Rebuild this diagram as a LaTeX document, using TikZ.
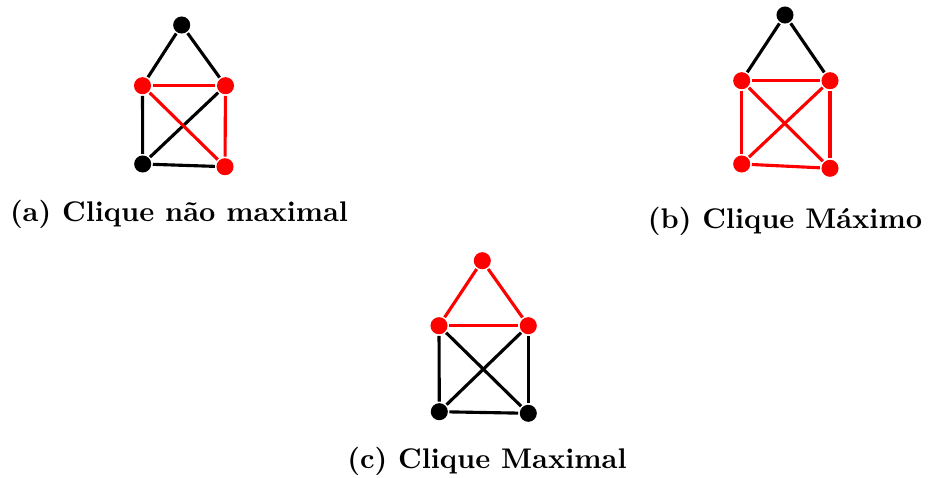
\documentclass[tikz,border=0pt]{standalone}
\begin{document}
\begin{tikzpicture}[x=0.352pt, y=-0.352pt, line width=1.1pt,
    vtx/.style={circle, fill=black, inner sep=0pt, minimum size=6pt},
    rvtx/.style={vtx, fill=red},
    lbl/.style={anchor=base, font=\bfseries}]
\useasboundingbox (0,0) rectangle (928,477);

% (a) clique nao maximal
\node[vtx] (a0) at (181.7,25) {};
\node[rvtx] (a1) at (142.5,85.7) {};
\node[rvtx] (a2) at (225.5,85.7) {};
\node[vtx] (a3) at (142.7,164) {};
\node[rvtx] (a4) at (225,166.7) {};
\draw (a0) -- (a1);
\draw (a0) -- (a2);
\draw (a1) -- (a3);
\draw (a3) -- (a4);
\draw (a3) -- (a2);
\draw[red] (a1) -- (a2);
\draw[red] (a2) -- (a4);
\draw[red] (a1) -- (a4);
\node[lbl] (capa) at (179,221) {(a) Clique não maximal};

% (b) clique maximo
\node[vtx] (b0) at (785,15) {};
\node[rvtx] (b1) at (741.7,80.7) {};
\node[rvtx] (b2) at (830,80.7) {};
\node[rvtx] (b3) at (741.7,164) {};
\node[rvtx] (b4) at (830,168.3) {};
\draw (b0) -- (b1);
\draw (b0) -- (b2);
\draw[red] (b1) -- (b2);
\draw[red] (b1) -- (b3);
\draw[red] (b2) -- (b4);
\draw[red] (b3) -- (b4);
\draw[red] (b1) -- (b4);
\draw[red] (b2) -- (b3);
\node[lbl] (capb) at (785,228) {(b) Clique Máximo};

% (c) clique maximal
\node[rvtx] (c0) at (482.3,260.7) {};
\node[rvtx] (c1) at (439,325.7) {};
\node[rvtx] (c2) at (528.3,325.7) {};
\node[vtx] (c3) at (439.3,411.7) {};
\node[vtx] (c4) at (528.3,413.3) {};
\draw[red] (c0) -- (c1);
\draw[red] (c0) -- (c2);
\draw[red] (c1) -- (c2);
\draw (c1) -- (c3);
\draw (c2) -- (c4);
\draw (c3) -- (c4);
\draw (c1) -- (c4);
\draw (c2) -- (c3);
\node[lbl] (capc) at (487,468) {(c) Clique Maximal};
\end{tikzpicture}
\end{document}
